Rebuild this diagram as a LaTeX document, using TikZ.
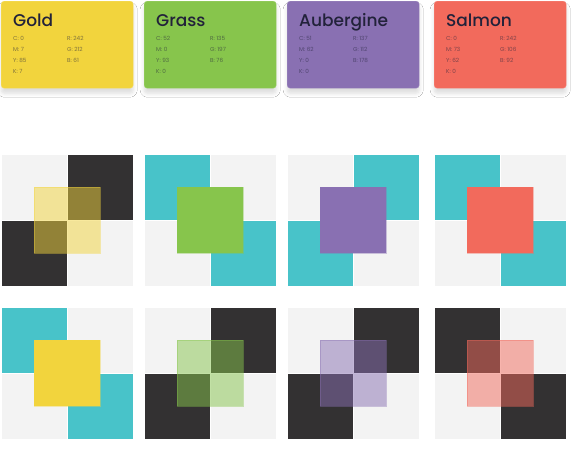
\documentclass[tikz,border=0pt]{standalone}
\usepackage{fontspec}
\setmainfont{Poppins}
\newfontfamily\titlefont{Poppins}[UprightFont=* Medium]
\usetikzlibrary{shadows.blur}
\definecolor{gold}{RGB}{242,212,61}
\definecolor{grass}{RGB}{135,197,76}
\definecolor{aubergine}{RGB}{137,112,178}
\definecolor{salmon}{RGB}{242,106,92}
\definecolor{teal}{RGB}{72,195,201}
\definecolor{ink}{RGB}{51,49,50}
\definecolor{paper}{RGB}{243,243,243}
\definecolor{navy}{RGB}{34,34,58}
\tikzset{
card/.style={rectangle,rounded corners=3pt,minimum width=132pt,minimum height=87pt,inner sep=0pt,anchor=north west,draw=#1!80!white,fill=#1,blur shadow={shadow xshift=0pt,shadow yshift=-5pt,shadow blur steps=6,shadow blur radius=4pt,shadow opacity=14}},
cardtitle/.style={anchor=base west,inner sep=0pt,text=navy,font=\titlefont\fontsize{17}{17}\selectfont},
cardval/.style={anchor=base west,inner sep=0pt,text=navy,text opacity=0.55,font=\fontsize{5.7}{6}\selectfont},
quad/.style={draw=white,line width=0.5pt},
}
% one swatch: x, y, four quarters, colour on top, its opacity
\newcommand\swatch[8]{%
\fill[#3,quad](#1,#2)rectangle++(66,66);
\fill[#4,quad](#1+66,#2)rectangle++(66,66);
\fill[#5,quad](#1,#2+66)rectangle++(66,66);
\fill[#6,quad](#1+66,#2+66)rectangle++(66,66);
\filldraw[#7,fill opacity=#8,draw opacity=0.4,line width=0.5pt](#1+33,#2+33)rectangle++(66,66);}
\begin{document}
\begin{tikzpicture}[x=1pt,y=-1pt]
\fill[white](0,0)rectangle(576,448);
\useasboundingbox(0,0)rectangle(576,448);
% colour cards
\foreach \name/\col/\x/\vc/\vm/\vy/\vk/\vr/\vg/\vb in {Gold/gold/1/0/7/85/7/242/212/61,Grass/grass/144/52/0/93/0/135/197/76,Aubergine/aubergine/287/51/62/0/0/137/112/178,Salmon/salmon/434/0/73/62/0/242/106/92}{
\node[card=\col](\col) at (\x,1){};
\node[cardtitle](\col-title) at (\x+12,26){\name};
\node[cardval](\col-c) at (\x+12,40.5){C: \vc};
\node[cardval](\col-m) at (\x+12,51.5){M: \vm};
\node[cardval](\col-y) at (\x+12,62.5){Y: \vy};
\node[cardval](\col-k) at (\x+12,73.5){K: \vk};
\node[cardval](\col-r) at (\x+66,40.5){R: \vr};
\node[cardval](\col-g) at (\x+66,51.5){G: \vg};
\node[cardval](\col-b) at (\x+66,62.5){B: \vb};
}
% top row
\swatch{1}{154}{paper}{ink}{ink}{paper}{gold}{0.5}
\swatch{144}{154}{teal}{paper}{paper}{teal}{grass}{1}
\swatch{287}{154}{paper}{teal}{teal}{paper}{aubergine}{1}
\swatch{434}{154}{teal}{paper}{paper}{teal}{salmon}{1}
% bottom row
\swatch{1}{307}{teal}{paper}{paper}{teal}{gold}{1}
\swatch{144}{307}{paper}{ink}{ink}{paper}{grass}{0.5}
\swatch{287}{307}{paper}{ink}{ink}{paper}{aubergine}{0.5}
\swatch{434}{307}{ink}{paper}{paper}{ink}{salmon}{0.5}
\end{tikzpicture}
\end{document}
